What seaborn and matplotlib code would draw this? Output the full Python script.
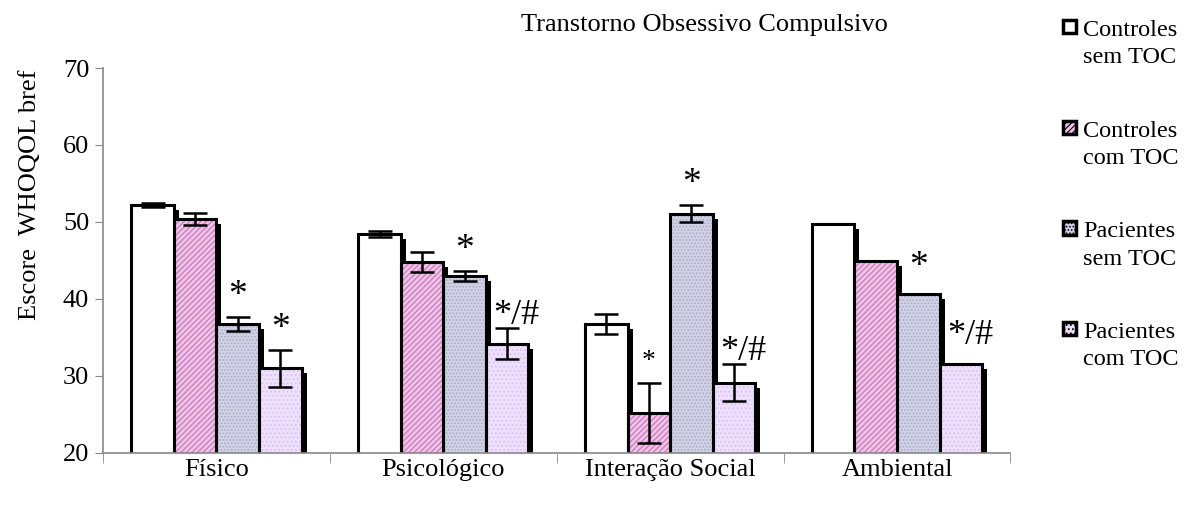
import numpy as np
import pandas as pd
import seaborn as sns
import matplotlib.pyplot as plt
import matplotlib.transforms as mtransforms
from matplotlib.patches import Rectangle
from matplotlib.legend_handler import HandlerPatch

# Data
dominios = ['Físico', 'Psicológico', 'Interação Social', 'Ambiental']
grupos = ['Controles\nsem TOC', 'Controles\ncom TOC', 'Pacientes\nsem TOC', 'Pacientes\ncom TOC']

ctrl_sem = [52.2, 48.4, 36.8, 49.7]
ctrl_com = [50.4, 44.8, 25.2, 44.9]
pac_sem = [36.8, 43.0, 51.1, 40.6]
pac_com = [31.0, 34.2, 29.1, 31.5]

err_ctrl_sem = [0.3, 0.4, 1.3, 0.0]
err_ctrl_com = [0.8, 1.3, 3.9, 0.0]
err_pac_sem = [0.9, 0.6, 1.1, 0.0]
err_pac_com = [2.4, 2.0, 2.4, 0.0]

# significance marks per bar (group x domain)
marcas_ctrl_com = ['', '', '*', '']
marcas_pac_sem = ['*', '*', '*', '*']
marcas_pac_com = ['*', '*/#', '*/#', '*/#']

df = pd.DataFrame({
    'dominio': dominios * 4,
    'grupo': np.repeat(grupos, 4),
    'escore': ctrl_sem + ctrl_com + pac_sem + pac_com,
})
erros = [err_ctrl_sem, err_ctrl_com, err_pac_sem, err_pac_com]
marcas = [['', '', '', ''], marcas_ctrl_com, marcas_pac_sem, marcas_pac_com]

faces = ['#ffffff', '#efc2e6', '#d2d2e6', '#eee0fc']
hatch_cols = ['#ffffff', '#c474ba', '#a8a8c8', '#d9c2f0']
hatches = ['', '//////', '.....', '....']

plt.rcParams['font.family'] = ['Liberation Serif', 'DejaVu Serif']
plt.rcParams['hatch.linewidth'] = 0.8


class TopSquare(HandlerPatch):
    # square next to the first line of a two-line label
    def create_artists(self, legend, orig_handle, xdescent, ydescent, width, height, fontsize, trans):
        s = 0.54 * fontsize
        p = Rectangle((-xdescent, -ydescent + 0.78 * fontsize), s, s)
        self.update_prop(p, orig_handle, legend)
        p.set_transform(trans)
        return [p]


fig = plt.figure(figsize=(11.9, 5.14), dpi=100)
ax = fig.add_axes([0.0866, 0.1187, 0.7625, 0.749])

sns.barplot(data=df, x='dominio', y='escore', hue='grupo', hue_order=grupos,
            order=dominios, palette=faces, width=0.75, legend=False, ax=ax,
            errorbar=None, saturation=1)

shift = mtransforms.ScaledTranslation(0.05, -0.05, fig.dpi_scale_trans)

bar_conts = list(ax.containers)
legend_handles = []
for gi, cont in enumerate(bar_conts):
    for di, bar in enumerate(cont.patches):
        bar.set_hatch(hatches[gi])
        bar.set_edgecolor(hatch_cols[gi])
        bar.set_linewidth(0)
        bar.set_zorder(2)
        # black drop shadow behind every bar
        ax.add_patch(Rectangle(bar.get_xy(), bar.get_width(), bar.get_height(),
                               facecolor='black', edgecolor='none', zorder=1,
                               transform=ax.transData + shift))
        # black outline on top of the hatched fill
        ax.add_patch(Rectangle(bar.get_xy(), bar.get_width(), bar.get_height(),
                               fill=False, edgecolor='black', linewidth=2.2, zorder=3))
        cx = bar.get_x() + bar.get_width() / 2
        h = bar.get_height()
        e = erros[gi][di]
        if e > 0:
            ax.errorbar(cx, h, yerr=e, fmt='none', ecolor='black', elinewidth=1.8,
                        capsize=8.5, capthick=1.8, zorder=4)
        m = marcas[gi][di]
        if m:
            top = h + e
            if m == '*':
                size = 20 if gi == 1 else 27
                off = 1.1 if gi == 1 else 0.5
                dx = 0
                if e == 0:
                    off += 0.9
            else:
                size = 26
                off = -0.5
                dx = 0.04
                if e == 0:
                    off += 2.1
            ax.text(cx + dx, top + off, m, ha='center', va='bottom',
                    fontsize=size, zorder=5)
    handle = Rectangle((0, 0), 1, 1, facecolor=faces[gi], edgecolor='black',
                       hatch=hatches[gi], linewidth=2.5)
    legend_handles.append(handle)

ax.set_ylim(20, 70)
ax.set_xlim(-0.5, 3.5)
ax.set_yticks([20, 30, 40, 50, 60, 70])
ax.set_xlabel('')
ax.set_ylabel('Escore  WHOQOL bref', fontsize=19, labelpad=16, y=0.67)
ax.tick_params(axis='y', labelsize=19, length=6, color='#888888', direction='out', pad=4)
ax.tick_params(axis='x', which='major', labelsize=19, length=0, pad=4)
ax.set_xticks(np.arange(-0.5, 4.0, 1.0), minor=True)
ax.tick_params(axis='x', which='minor', length=7, color='#888888', direction='out')
for side in ['top', 'right']:
    ax.spines[side].set_visible(False)
for side in ['left', 'bottom']:
    ax.spines[side].set_color('#888888')
    ax.spines[side].set_linewidth(1.2)
    ax.spines[side].set_zorder(6)

fig.text(0.592, 0.951, 'Transtorno Obsessivo Compulsivo', ha='center', va='center', fontsize=19)

leg = fig.legend(legend_handles, grupos, loc='upper left', bbox_to_anchor=(0.885, 0.98),
                 frameon=False, fontsize=17.5, handlelength=0.54, handleheight=0.7,
                 handletextpad=0.3, labelspacing=2.15, borderaxespad=0,
                 handler_map={Rectangle: TopSquare()})
for t in leg.get_texts():
    t.set_multialignment('left')
    t.set_linespacing(1.4)

fig.savefig('out.png', dpi=100)
